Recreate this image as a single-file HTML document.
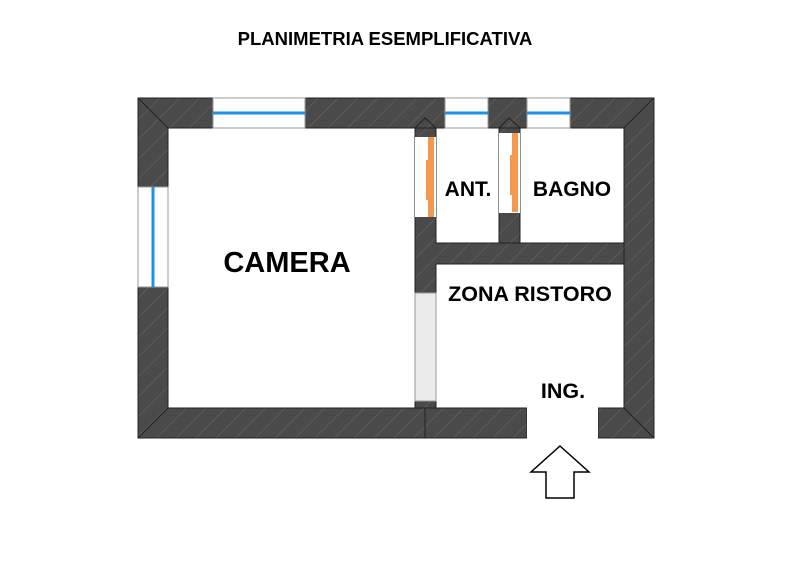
<!DOCTYPE html>
<html><head><meta charset="utf-8"><style>
html,body{margin:0;padding:0;background:#fff;}
svg{display:block}
text{font-family:"Liberation Sans",sans-serif;font-weight:bold;fill:#000}
</style></head><body>
<svg width="800" height="561" viewBox="0 0 800 561" xmlns="http://www.w3.org/2000/svg">
<defs>
<pattern id="h" patternUnits="userSpaceOnUse" width="14" height="14" patternTransform="rotate(45)">
<rect width="14" height="14" fill="#4a4a4a"/>
<line x1="0" y1="0" x2="0" y2="14" stroke="#666" stroke-width="1.2"/>
</pattern>
</defs>
<text x="385" y="45" font-size="18.5" text-anchor="middle">PLANIMETRIA ESEMPLIFICATIVA</text>
<g fill="url(#h)">
<rect x="138" y="98" width="516" height="30"/>
<rect x="138" y="98" width="30" height="340"/>
<rect x="624" y="98" width="30" height="340"/>
<rect x="138" y="408" width="389" height="30"/>
<rect x="598" y="408" width="56" height="30"/>
<rect x="415" y="128" width="21" height="280"/>
<rect x="499" y="128" width="21" height="115"/>
<rect x="415" y="243" width="209" height="21"/>
</g>
<g stroke="#222" stroke-width="1" fill="none">
<path d="M138,98 H654 V438 H598 V408 H624 V128 H168 V408 H527 V438 H138 Z"/>
<line x1="138" y1="98" x2="168" y2="128"/>
<line x1="654" y1="98" x2="624" y2="128"/>
<line x1="138" y1="438" x2="168" y2="408"/>
<line x1="654" y1="438" x2="624" y2="408"/>
<path d="M415,128 V408 M436,128 V243 M436,264 V408 M499,128 V243 M520,128 V243 M436,243 H624 M436,264 H624 M415,128 L425,118 L436,128 M499,128 L509,118 L520,128 M425,408 V438"/>
</g>
<g fill="#fff" stroke="#999" stroke-width="1">
<rect x="213" y="98" width="92" height="30"/>
<rect x="445" y="98" width="43" height="30"/>
<rect x="527" y="98" width="43" height="30"/>
<rect x="138" y="187" width="30" height="100"/>
</g>
<g stroke="#1e90e8" stroke-width="3">
<line x1="213" y1="113" x2="305" y2="113"/>
<line x1="445" y1="113" x2="488" y2="113"/>
<line x1="527" y1="113" x2="570" y2="113"/>
<line x1="153" y1="187" x2="153" y2="287"/>
</g>
<rect x="415" y="137" width="21" height="80" fill="#fff"/>
<rect x="499" y="133" width="21" height="80" fill="#fff"/>
<polygon points="428,137 434,137 434,217 428,217 428,200 426,200 426,160 428,160" fill="#f4984f"/>
<polygon points="512,133 518,133 518,212 512,212 512,195 510,195 510,155 512,155" fill="#f4984f"/>
<rect x="415" y="293" width="21" height="108" fill="#ebebeb" stroke="#999"/>
<rect x="527" y="407.5" width="71" height="32" fill="#fff"/>
<text x="287" y="272" font-size="29" text-anchor="middle">CAMERA</text>
<text x="468" y="196" font-size="21" text-anchor="middle">ANT.</text>
<text x="572" y="196" font-size="21" text-anchor="middle">BAGNO</text>
<text x="530" y="301" font-size="21.5" text-anchor="middle">ZONA RISTORO</text>
<text x="563" y="398" font-size="21.5" text-anchor="middle">ING.</text>
<polygon points="560,446 589,472 574,472 574,498 546,498 546,472 531,472" fill="#fff" stroke="#000" stroke-width="1.5"/>
</svg>
</body></html>
